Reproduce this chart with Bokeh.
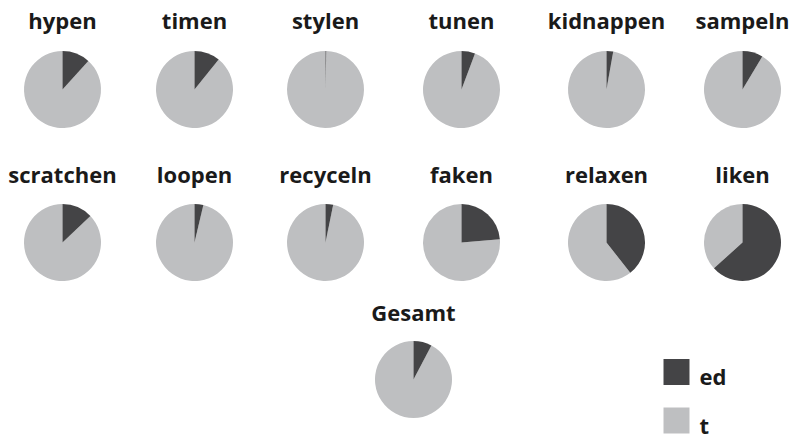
import math
from bokeh.plotting import figure
from bokeh.models import Range1d, ColumnDataSource
from bokeh.core.properties import value
from bokeh.embed import file_html
from bokeh.resources import INLINE

# ---- data ----
verbs = ["hypen", "timen", "stylen", "tunen", "kidnappen", "sampeln",
         "scratchen", "loopen", "recyceln", "faken", "relaxen", "liken", "Gesamt"]
ed_pct = [11.7, 10.8, 0.3, 5.7, 2.8, 8.6, 12.9, 3.7, 3.2, 23.7, 39.4, 63.3, 7.7]
t_pct = [88.3, 89.2, 99.7, 94.3, 97.2, 91.4, 87.1, 96.3, 96.8, 76.3, 60.6, 36.7, 92.3]
series = ["ed", "t"]

# ---- layout (screen pixel positions in the page) ----
W, H = 793, 435
row_x = [62, 194, 325, 461, 606, 742]
cx_s = row_x + row_x + [413]
cy_s = [89] * 6 + [242] * 6 + [379]
title_base_s = [19] * 6 + [173] * 6 + [311]
R = 38.5
DARK = "#444446"
LIGHT = "#bebfc1"
FONT = value("Open Sans")

def fx(sx):
    return sx

def fy(sy):
    return H - sy

p = figure(width=W, height=H, output_backend="svg", toolbar_location=None,
           x_range=Range1d(0, W), y_range=Range1d(0, H), min_border=0)
p.axis.visible = False
p.grid.visible = False
p.outline_line_color = None
p.background_fill_color = "white"
p.border_fill_color = "white"

xs = [fx(v) for v in cx_s]
ys = [fy(v) for v in cy_s]
ed_start, ed_end, t_start, t_end = [], [], [], []
for e, t in zip(ed_pct, t_pct):
    tot = e + t
    a0 = math.pi / 2
    a1 = a0 - 2 * math.pi * e / tot
    ed_start.append(a0)
    ed_end.append(a1)
    t_start.append(a1)
    t_end.append(a0 - 2 * math.pi)

src = ColumnDataSource(dict(x=xs, y=ys, es=ed_start, ee=ed_end, ts=t_start, te=t_end))
p.wedge(x="x", y="y", radius=R, radius_units="screen", start_angle="ts", end_angle="te",
        direction="clock", fill_color=LIGHT, line_color=None, source=src)
p.wedge(x="x", y="y", radius=R, radius_units="screen", start_angle="es", end_angle="ee",
        direction="clock", fill_color=DARK, line_color=None, source=src)

tsrc = ColumnDataSource(dict(x=[fx(v) for v in cx_s], y=[fy(v) for v in title_base_s], t=verbs))
p.text(x="x", y="y", text="t", source=tsrc, text_font=FONT, text_font_style="bold",
       text_font_size="22px", text_align="center", text_baseline="alphabetic", text_color="#1a1a1a")

# legend
leg_sq_y = [371.5, 420]
leg_txt_y = [375, 424]
p.rect(x=[fx(676)] * 2, y=[fy(v) for v in leg_sq_y], width=26, height=26,
       width_units="screen", height_units="screen", fill_color=[DARK, LIGHT], line_color=None)
p.text(x=[fx(699)] * 2, y=[fy(v) for v in leg_txt_y], text=series, text_font=FONT,
       text_font_style="bold", text_font_size="22px", text_align="left",
       text_baseline="alphabetic", text_color="#1a1a1a")

open("out.html", "w").write(file_html(p, INLINE))
